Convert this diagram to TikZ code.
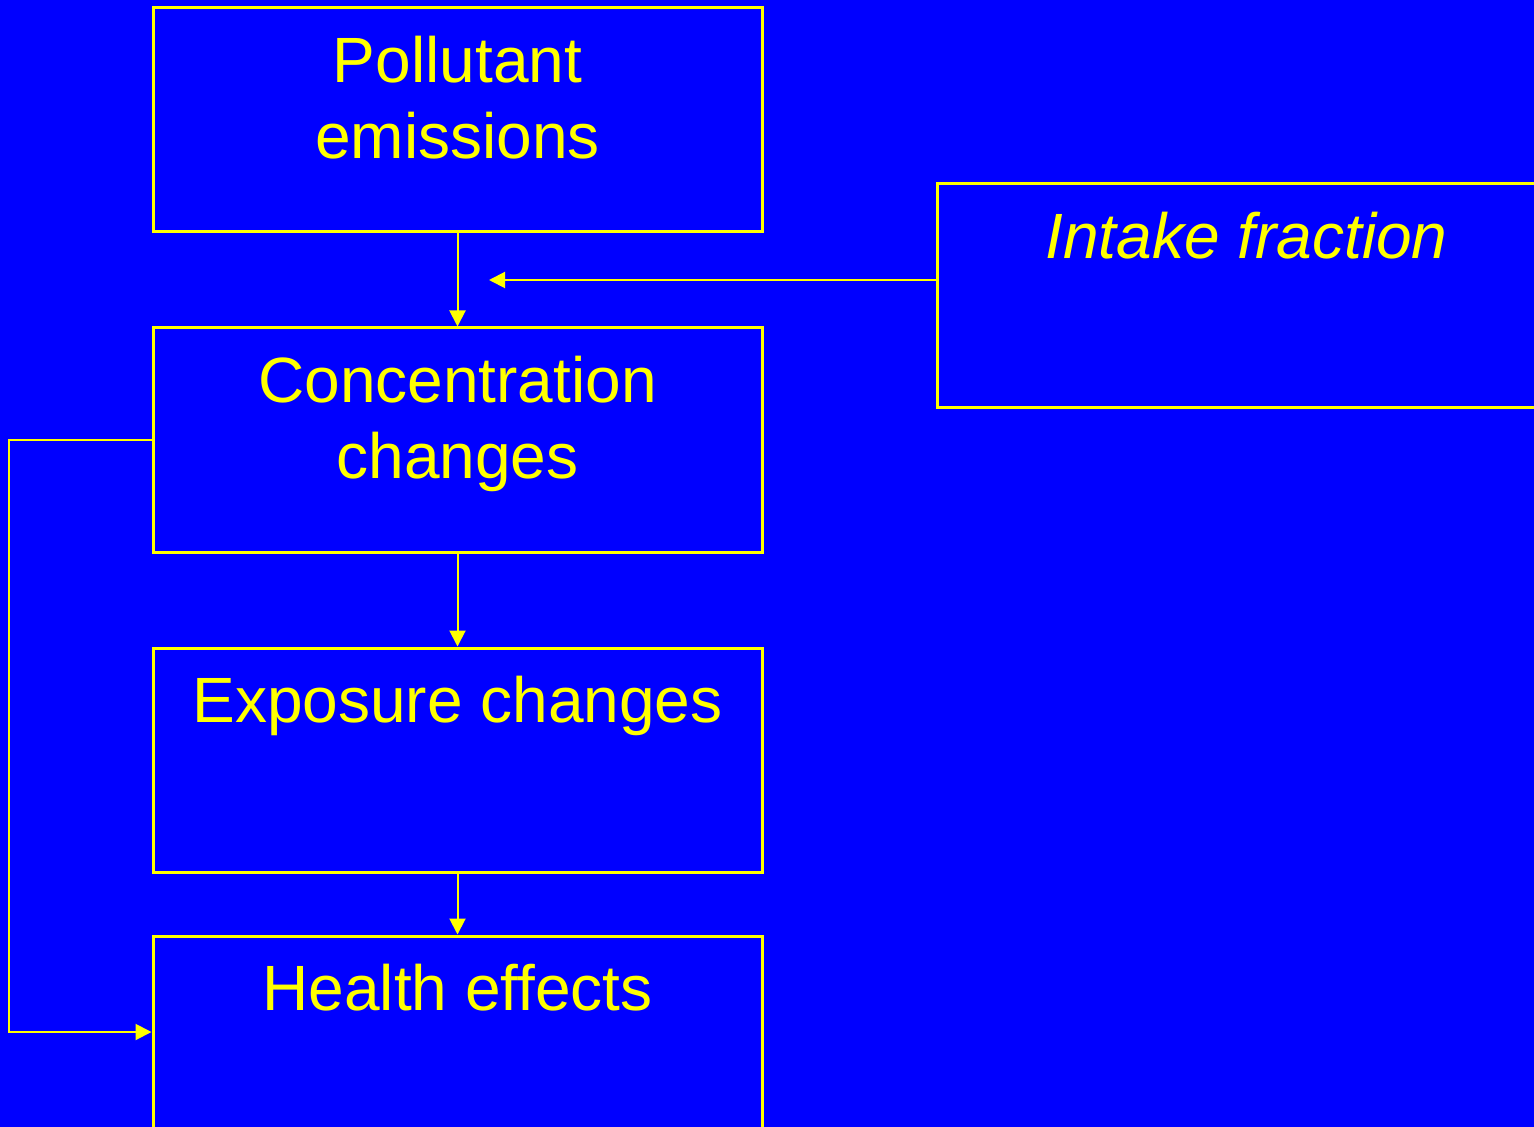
\documentclass[tikz,border=0pt]{standalone}
\usepackage{fontspec}
\setmainfont{Liberation Sans}
\usetikzlibrary{arrows.meta}

\definecolor{slideblue}{RGB}{0,0,255}
\definecolor{slideyellow}{RGB}{255,255,0}

\tikzset{every picture/.style={line width=1pt}}
\tikzset{
  stagebox/.style={draw=slideyellow, line width=1.5pt, minimum width=304.5pt, minimum height=112pt, inner sep=0pt},
  stagetext/.style={anchor=north, inner sep=0pt, text=slideyellow, align=center, font=\fontsize{32}{38}\selectfont},
  flow/.style={draw=slideyellow, line width=1pt, -{Triangle[length=8pt,width=8pt]}}
}

\begin{document}
\begin{tikzpicture}[x=0.5pt,y=0.5pt,yscale=-1,xscale=1]
%background, sets diagram size
\useasboundingbox [fill=slideblue] (0,0) rectangle (1534,1127);

%Shape: Rectangle [id:pollutant]
\node [stagebox] (pollutant) at (457.5,120) {};
%Shape: Rectangle [id:conc]
\node [stagebox] (conc) at (457.5,440) {};
%Shape: Rectangle [id:exposure]
\node [stagebox] (exposure) at (457.5,760) {};
%Shape: Rectangle [id:health]
\node [stagebox] (health) at (457.5,1048) {};
%Shape: Rectangle [id:intake]
\node [stagebox] (intake) at (1241.5,296) {};

% Text Node
\node [stagetext] (pollutant-txt) at ([yshift=14.5pt]pollutant.north) {Pollutant\\emissions};
% Text Node
\node [stagetext] (conc-txt) at ([yshift=14.5pt]conc.north) {Concentration\\changes};
% Text Node
\node [stagetext] (exposure-txt) at ([yshift=14.5pt]exposure.north) {Exposure changes};
% Text Node
\node [stagetext] (health-txt) at ([yshift=14.5pt]health.north) {Health effects};
% Text Node
\node [stagetext, font=\fontsize{32}{38}\selectfont\itshape] (intake-txt) at ([xshift=2.5pt,yshift=14.5pt]intake.north) {Intake fraction};

%Straight Lines
\draw [flow] (pollutant.south) -- (conc.north);
\draw [flow] (conc.south) -- (exposure.north);
\draw [flow] (exposure.south) -- (health.north);
%Straight Lines, intake fraction acts on first step
\coordinate (intake-end) at (489,280);
\draw [flow] (intake-end -| intake.west) -- (intake-end);
%Straight Lines, bypass to health
\coordinate (bypass) at (9,1032);
\draw [flow] (conc.west) -| (bypass) -- (bypass -| health.west);

\end{tikzpicture}
\end{document}
